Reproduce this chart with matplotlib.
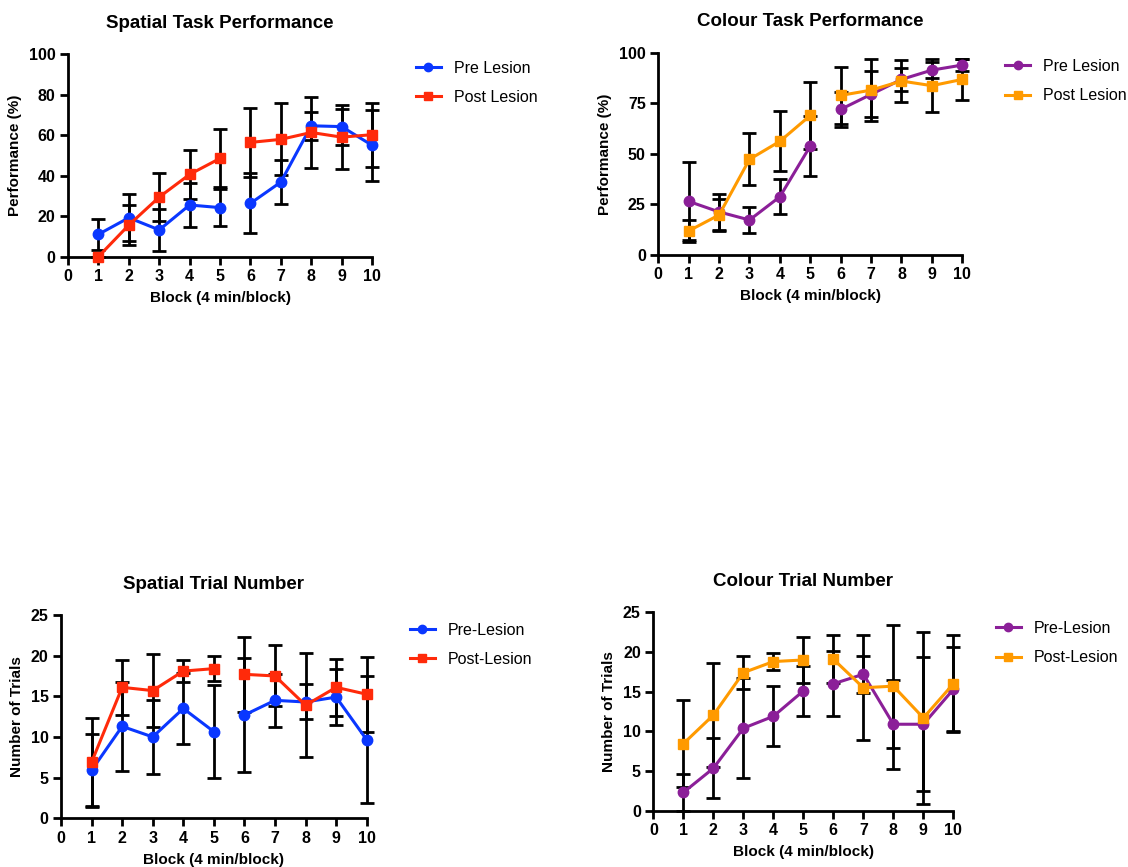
import matplotlib
matplotlib.use('Agg')
import matplotlib.pyplot as plt
import numpy as np

plt.rcParams['font.family'] = ['Liberation Sans', 'DejaVu Sans']

BLOCKS = np.arange(1, 11)

# Spatial task performance (%)
spatial_pre = [11.0, 19.2, 13.2, 25.5, 24.2, 26.3, 36.8, 64.6, 64.2, 55.0]
spatial_pre_err = [7.5, 11.7, 10.2, 11.1, 9.3, 14.8, 10.8, 7.0, 8.9, 17.5]
spatial_post = [0.0, 15.6, 29.4, 40.6, 48.5, 56.4, 57.9, 61.3, 59.0, 60.2]
spatial_post_err = [0.0, 9.8, 12.0, 12.0, 14.3, 17.0, 17.8, 17.7, 15.7, 15.7]

# Colour task performance (%)
colour_pre = [26.5, 21.3, 17.3, 28.8, 53.9, 72.0, 79.4, 86.8, 91.4, 93.9]
colour_pre_err = [19.3, 8.8, 6.6, 8.7, 15.0, 8.8, 11.4, 5.6, 4.1, 3.0]
colour_post = [11.9, 19.8, 47.3, 56.2, 69.0, 78.9, 81.5, 86.0, 83.7, 86.8]
colour_post_err = [5.4, 7.7, 12.9, 14.9, 16.5, 13.9, 15.3, 10.3, 13.0, 10.0]

# Spatial trial number
strial_pre = [5.9, 11.3, 10.0, 13.5, 10.65, 12.7, 14.5, 14.3, 14.9, 9.65]
strial_pre_err = [4.5, 5.5, 4.5, 4.4, 5.75, 7.0, 3.3, 2.15, 3.4, 7.8]
strial_post = [6.9, 16.1, 15.7, 18.1, 18.4, 17.7, 17.5, 13.9, 16.1, 15.25]
strial_post_err = [5.4, 3.4, 4.5, 1.4, 1.5, 4.6, 3.75, 6.4, 3.5, 4.6]

# Colour trial number
ctrial_pre = [2.3, 5.35, 10.4, 11.9, 15.1, 16.0, 17.2, 10.9, 10.9, 15.3]
ctrial_pre_err = [2.3, 3.8, 6.3, 3.8, 3.1, 4.1, 2.3, 5.6, 8.45, 5.3]
ctrial_post = [8.45, 12.05, 17.4, 18.8, 19.0, 19.1, 15.5, 15.7, 11.7, 16.0]
ctrial_post_err = [5.5, 6.6, 2.1, 1.1, 2.85, 3.0, 6.6, 7.75, 10.85, 6.1]

BLUE = '#0a37ff'
RED = '#ff2a0a'
PURPLE = '#8b1f98'
ORANGE = '#ff9a00'


def style_axes(ax, ymax, ystep):
    ax.set_xlim(0, 10)
    ax.set_ylim(0, ymax)
    ax.set_xticks(range(0, 11))
    ax.set_yticks(np.arange(0, ymax + 0.1, ystep))
    for side in ('top', 'right'):
        ax.spines[side].set_visible(False)
    for side in ('left', 'bottom'):
        ax.spines[side].set_linewidth(2)
    ax.tick_params(direction='out', length=6, width=2, labelsize=11.5, pad=3)
    for lab in ax.get_xticklabels() + ax.get_yticklabels():
        lab.set_fontweight('bold')
    ax.set_xlabel('Block (4 min/block)', fontsize=11, fontweight='bold', labelpad=5)


def draw_series(ax, y, err, color, marker, ms, label):
    y = np.asarray(y)
    err = np.asarray(err)
    ax.errorbar(BLOCKS, y, yerr=err, fmt='none', ecolor='black', elinewidth=2,
                capsize=5, capthick=2, zorder=2, clip_on=False)
    # block 5 and 6 are not joined
    for sl in (slice(0, 5), slice(5, 10)):
        ax.plot(BLOCKS[sl], y[sl], color=color, lw=2.2, marker=marker, ms=ms,
                zorder=3, clip_on=False)
    ax.plot([], [], color=color, lw=2.2, marker=marker, ms=6, label=label)


def panel(rect, title, ylabel, ymax, ystep, pre, pre_err, post, post_err,
          c_pre, c_post, labels, leg_xy):
    ax = fig.add_axes(rect)
    draw_series(ax, pre, pre_err, c_pre, 'o', 7.5, labels[0])
    draw_series(ax, post, post_err, c_post, 's', 7.5, labels[1])
    style_axes(ax, ymax, ystep)
    ax.set_ylabel(ylabel, fontsize=11, fontweight='bold', labelpad=5)
    ax.set_title(title, fontsize=13.5, fontweight='bold', pad=19)
    ax.legend(loc='upper left', bbox_to_anchor=leg_xy, bbox_transform=fig.transFigure,
              frameon=False, fontsize=11.5, handlelength=1.55, handletextpad=0.8,
              labelspacing=0.9, borderaxespad=0, borderpad=0)
    return ax


fig = plt.figure(figsize=(11.28, 8.67), dpi=100)

panel([0.0603, 0.704, 0.2695, 0.2336], 'Spatial Task Performance', 'Performance (%)',
      100, 20, spatial_pre, spatial_pre_err, spatial_post, spatial_post_err,
      BLUE, RED, ['Pre Lesion', 'Post Lesion'], (0.3688, 0.930))

panel([0.5836, 0.7059, 0.2695, 0.2333], 'Colour Task Performance', 'Performance (%)',
      100, 25, colour_pre, colour_pre_err, colour_post, colour_post_err,
      PURPLE, ORANGE, ['Pre Lesion', 'Post Lesion'], (0.8912, 0.932))

panel([0.0541, 0.0562, 0.271, 0.2345], 'Spatial Trial Number', 'Number of Trials',
      25, 5, strial_pre, strial_pre_err, strial_post, strial_post_err,
      BLUE, RED, ['Pre-Lesion', 'Post-Lesion'], (0.3635, 0.282))

panel([0.5792, 0.0649, 0.266, 0.2288], 'Colour Trial Number', 'Number of Trials',
      25, 5, ctrial_pre, ctrial_pre_err, ctrial_post, ctrial_post_err,
      PURPLE, ORANGE, ['Pre-Lesion', 'Post-Lesion'], (0.883, 0.284))

fig.savefig('out.png', dpi=100)
